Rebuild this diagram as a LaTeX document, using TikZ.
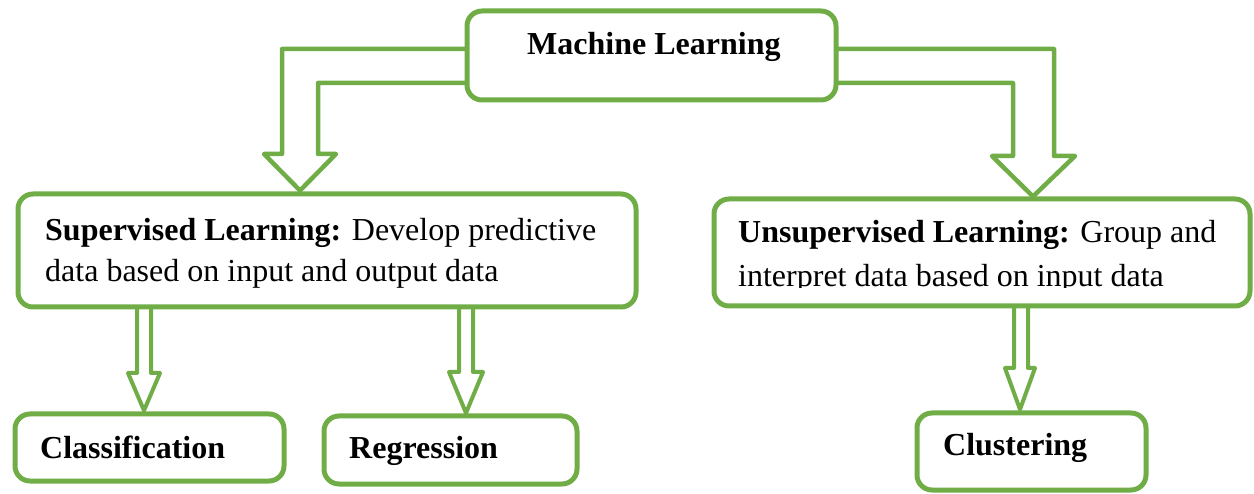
\documentclass[tikz,border=0pt]{standalone}
\usepackage{fontspec}
\setmainfont{Liberation Serif}
\definecolor{mlgreen}{HTML}{70AD47}
\begin{document}
\begin{tikzpicture}[x=1pt,y=-1pt,
  box/.style={draw=mlgreen,line width=5pt,rounded corners=15pt,fill=white,inner sep=0pt,outer sep=0pt},
  bigarrow/.style={draw=mlgreen,line width=4.5pt,line join=round},
  smallarrow/.style={draw=mlgreen,line width=4pt,line join=round},
  txt/.style={anchor=base west,inner sep=0pt,font=\fontsize{32}{41}\selectfont}]
\useasboundingbox (0,0) rectangle (1254,494);
% boxes
\node[box,minimum width=369pt,minimum height=89pt] (ml) at (651.5,55.5) {};
\node[box,minimum width=618pt,minimum height=113pt] (sup) at (327,250.5) {};
\node[box,minimum width=536pt,minimum height=107pt] (uns) at (982,252.5) {};
\node[box,minimum width=269pt,minimum height=67pt] (cla) at (149.5,447.5) {};
\node[box,minimum width=253pt,minimum height=68pt] (reg) at (450.5,450) {};
\node[box,minimum width=229pt,minimum height=77pt] (clu) at (1031.5,451.5) {};
% texts
\node[txt] (mlt) at (527,55) {\textbf{Machine Learning}};
\node[txt] (supt1) at (45,241) {\textbf{Supervised Learning:} Develop predictive};
\node[txt] (supt2) at (45,282) {data based on input and output data};
\node[txt] (unst1) at (738,243) {\textbf{Unsupervised Learning:} Group and};
\begin{scope}
\clip (720,255) rectangle (1240,288);
\node[txt] (unst2) at (738,287) {interpret data based on input data};
\end{scope}
\node[txt] (clat) at (40,458) {\textbf{Classification}};
\node[txt] (regt) at (349,458) {\textbf{Regression}};
\node[txt] (clut) at (943,455) {\textbf{Clustering}};
% big arrows
\draw[bigarrow] (ml.west|-0,49) -- (282,49) -- (282,154) -- (264,154) -- (300,190.5)
  -- (336,154) -- (318,154) -- (318,83) -- (ml.west|-0,83);
\draw[bigarrow] (ml.east|-0,49) -- (1054,49) -- (1054,156) -- (1075,156) -- (1033,196.5)
  -- (992,156) -- (1013,156) -- (1013,83) -- (ml.east|-0,83);
% small arrows
\draw[smallarrow] (sup.south-|137,0) -- (137,373) -- (128,373) -- (144,410.5) -- (160,373) -- (151,373) -- (sup.south-|151,0);
\draw[smallarrow] (sup.south-|459,0) -- (459,372) -- (449,372) -- (466,413) -- (483,372) -- (473,372) -- (sup.south-|473,0);
\draw[smallarrow] (uns.south-|1014,0) -- (1014,368) -- (1005,368) -- (1020,409.5) -- (1035,368) -- (1028,368) -- (uns.south-|1028,0);
\end{tikzpicture}
\end{document}
